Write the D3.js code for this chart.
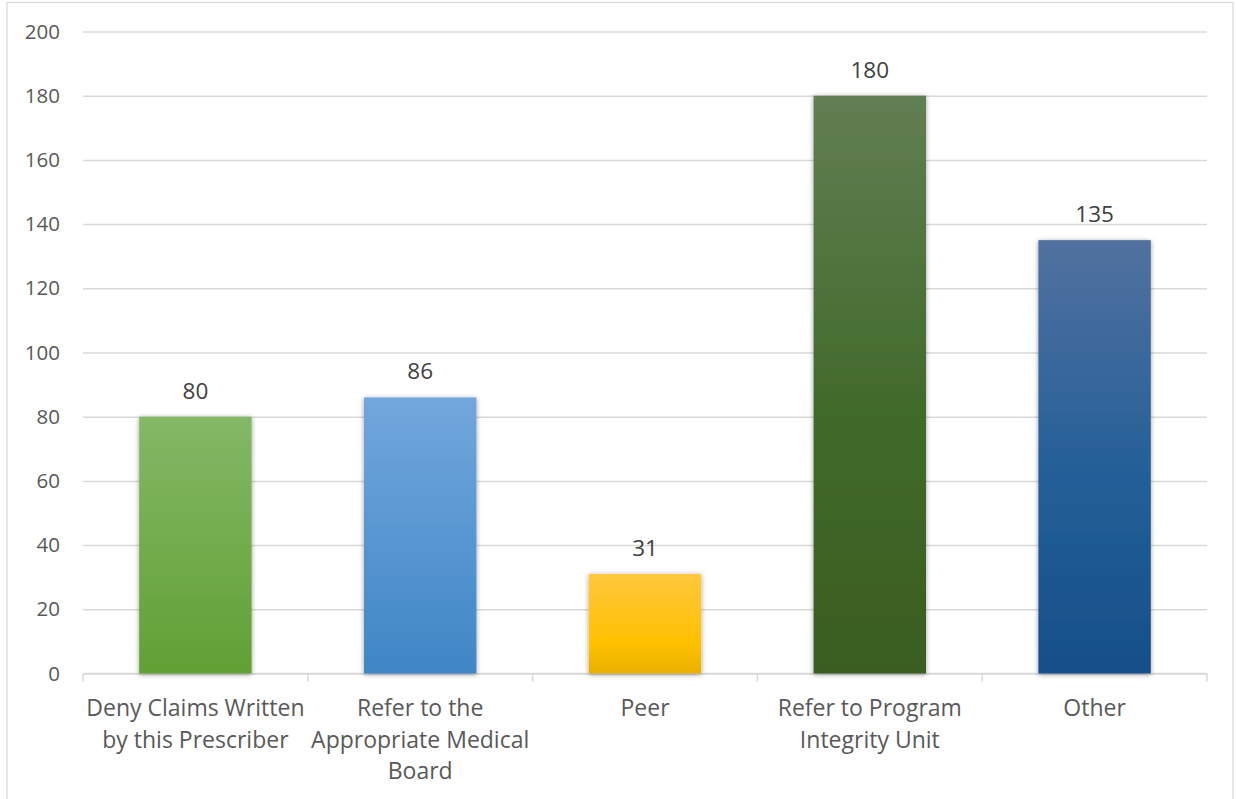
<!DOCTYPE html>
<html>
<head>
<meta charset="utf-8">
<script src="https://cdn.jsdelivr.net/npm/d3@7"></script>
<style>
  html, body { margin: 0; padding: 0; background: #ffffff; }
  svg { display: block; }
  text { font-family: "Open Sans", "Noto Sans", sans-serif; }
</style>
</head>
<body>
<script>
// ---- data ----
const categories = [
  "Deny Claims Written by this Prescriber",
  "Refer to the Appropriate Medical Board",
  "Peer",
  "Refer to Program Integrity Unit",
  "Other"
];
const categoryLines = [
  ["Deny Claims Written", "by this Prescriber"],
  ["Refer to the", "Appropriate Medical", "Board"],
  ["Peer"],
  ["Refer to Program", "Integrity Unit"],
  ["Other"]
];
const values = [80, 86, 31, 180, 135];
const yTicks = [0, 20, 40, 60, 80, 100, 120, 140, 160, 180, 200];
const barGradients = [
  [["0%", "#84b866"], ["100%", "#61a034"]],
  [["0%", "#72a7dd"], ["100%", "#3f86c6"]],
  [["0%", "#ffc83e"], ["70%", "#ffc000"], ["100%", "#e8b100"]],
  [["0%", "#627e53"], ["55%", "#416a2a"], ["100%", "#3a5d20"]],
  [["0%", "#51719f"], ["55%", "#235f98"], ["100%", "#164f89"]]
];

const W = 1236, H = 799;
const plot = { left: 83, right: 1207, top: 31.5, bottom: 673.5 };

const svg = d3.select("body").append("svg").attr("width", W).attr("height", H);

const defs = svg.append("defs");
barGradients.forEach((stops, i) => {
  const g = defs.append("linearGradient").attr("id", "grad" + i)
    .attr("x1", 0).attr("y1", 0).attr("x2", 0).attr("y2", 1);
  stops.forEach(s => g.append("stop").attr("offset", s[0]).attr("stop-color", s[1]));
});
const f = defs.append("filter").attr("id", "shadow")
  .attr("x", "-20%").attr("y", "-10%").attr("width", "140%").attr("height", "120%");
f.append("feDropShadow").attr("dx", 0).attr("dy", 1).attr("stdDeviation", 2.5)
  .attr("flood-color", "#000").attr("flood-opacity", 0.4);

// chart border
svg.append("rect").attr("x", 7).attr("y", 2.5).attr("width", 1226).attr("height", 820)
  .attr("fill", "none").attr("stroke", "#d9d9d9").attr("stroke-width", 1.3);

const x = d3.scaleBand().domain(categories).range([plot.left, plot.right])
  .paddingInner(0.5).paddingOuter(0.25);
const y = d3.scaleLinear().domain([0, 200]).range([plot.bottom, plot.top]);

// gridlines + y labels
const yAxis = svg.append("g").attr("transform", `translate(${plot.left},0)`)
  .call(d3.axisLeft(y).tickValues(yTicks).tickSize(-(plot.right - plot.left)).tickPadding(23));
yAxis.select(".domain").remove();
yAxis.selectAll(".tick line").attr("stroke", "#d9d9d9").attr("stroke-width", 1.5);
yAxis.selectAll(".tick text").attr("fill", "#595959").style("font-size", "20.5px")
  .style("font-family", "'Open Sans', sans-serif");

// x axis baseline and category boundary ticks
const step = x.step();
const boundaries = d3.range(categories.length + 1).map(i => plot.left + i * step);
svg.append("line").attr("x1", plot.left).attr("x2", plot.right)
  .attr("y1", y(0)).attr("y2", y(0)).attr("stroke", "#d9d9d9").attr("stroke-width", 1.5);
svg.append("g").selectAll("line").data(boundaries).join("line")
  .attr("x1", d => d).attr("x2", d => d)
  .attr("y1", y(0)).attr("y2", y(0) + 8)
  .attr("stroke", "#d9d9d9").attr("stroke-width", 1.5);

// bars
svg.append("g").selectAll("rect").data(values).join("rect")
  .attr("x", (d, i) => x(categories[i]))
  .attr("width", x.bandwidth())
  .attr("y", d => y(d))
  .attr("height", d => y(0) - y(d))
  .attr("fill", (d, i) => `url(#grad${i})`)
  .attr("filter", "url(#shadow)");

// value labels
svg.append("g").selectAll("text").data(values).join("text")
  .attr("x", (d, i) => x(categories[i]) + x.bandwidth() / 2)
  .attr("y", d => y(d) - 18)
  .attr("text-anchor", "middle")
  .attr("fill", "#404040")
  .style("font-size", "22.5px")
  .text(d => d);

// category labels
const lab = svg.append("g").selectAll("text").data(categoryLines).join("text")
  .attr("text-anchor", "middle")
  .attr("fill", "#595959")
  .style("font-size", "23px")
  .attr("transform", (d, i) => `translate(${x(categories[i]) + x.bandwidth() / 2},716)`);
lab.selectAll("tspan").data(d => d).join("tspan")
  .attr("x", 0).attr("y", (d, j) => j * 31.5).text(d => d);
</script>
</body>
</html>
